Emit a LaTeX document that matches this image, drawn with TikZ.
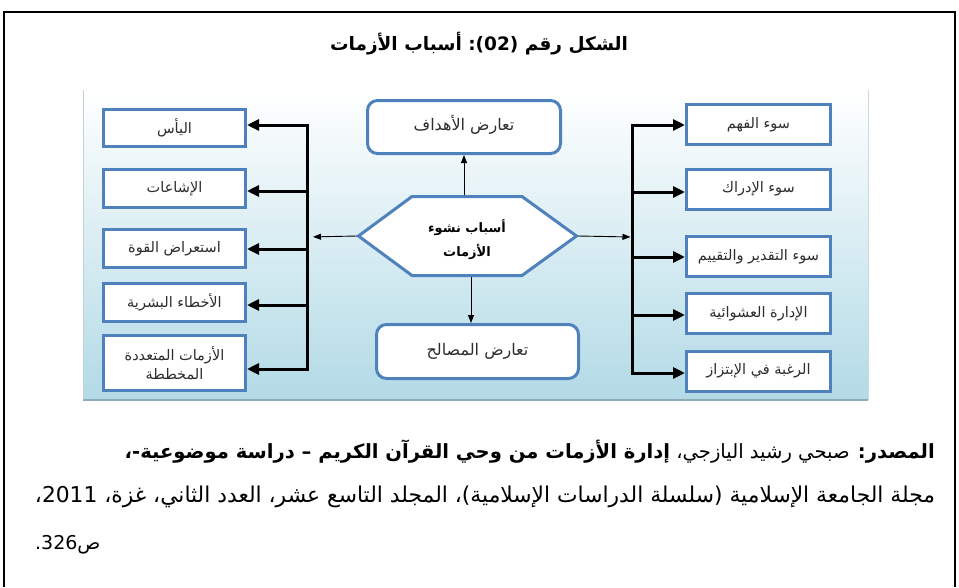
\documentclass[tikz,border=0pt]{standalone}
\usepackage{fontspec}
\usetikzlibrary{arrows.meta}
\TeXXeTstate=1
\newfontfamily\arabicfont[Script=Arabic]{DejaVu Sans}
\definecolor{boxblue}{RGB}{79,129,189}
\definecolor{panelblue}{RGB}{178,218,230}
\definecolor{panelmid}{RGB}{226,241,246}
\definecolor{paneledge}{RGB}{140,172,185}
\definecolor{boxtext}{RGB}{45,45,45}
\tikzset{
  sqbox/.style={draw=boxblue, line width=3pt, fill=white, minimum width=142pt,
    minimum height=38pt, inner sep=2pt, text=boxtext, font=\arabicfont\fontsize{14.5}{19}\selectfont, align=center},
  rbox/.style={draw=boxblue, line width=3pt, fill=white, rounded corners=10pt,
    inner sep=2pt, text=boxtext, font=\arabicfont\fontsize{16}{20}\selectfont},
  bigarrow/.style={line width=3pt, -{Triangle[length=12pt,width=11pt]}},
  bigtwo/.style={line width=3pt, {Triangle[length=12pt,width=11pt]}-{Triangle[length=12pt,width=11pt]}},
  thinarrow/.style={line width=0.9pt, -{Triangle[length=8pt,width=6pt]}},
}
\begin{document}
\begin{tikzpicture}[x=1pt,y=-1pt]
\useasboundingbox (0,0) rectangle (959,587);
% outer frame
\draw[line width=1.5pt] (4,587) -- (4,12) -- (955,12) -- (955,587);
% title
\node (title) at (479,44) {\arabicfont\bfseries\fontsize{18.5}{23}\selectfont\beginR الشكل رقم \beginL(02):\endL\ أسباب الأزمات\endR};
% panel
\shade[top color=white, middle color=panelmid, bottom color=panelblue] (83,90) rectangle (868,400);
\draw[paneledge!55, line width=1pt] (83,90) -- (83,400);
\draw[paneledge!45, line width=1pt] (868,90) -- (868,400);
\draw[paneledge, line width=1.6pt] (83,400) -- (868,400);

% left boxes
\node[sqbox, minimum height=37pt] (l1) at (174.5,128) {\beginR اليأس\endR};
\node[sqbox] (l2) at (174.5,188.5) {\beginR الإشاعات\endR};
\node[sqbox] (l3) at (174.5,248.5) {\beginR استعراض القوة\endR};
\node[sqbox] (l4) at (174.5,302.5) {\beginR الأخطاء البشرية\endR};
\node[sqbox, minimum height=55pt] (l5) at (174.5,363) {\beginR الأزمات المتعددة\endR\\\beginR المخططة\endR};

% right boxes
\node[sqbox, minimum width=144pt, minimum height=40pt] (r1) at (758.5,124.5) {\beginR سوء الفهم\endR};
\node[sqbox, minimum width=144pt, minimum height=40pt] (r2) at (758.5,189) {\beginR سوء الإدراك\endR};
\node[sqbox, minimum width=144pt, minimum height=40pt] (r3) at (758.5,256.5) {\beginR سوء التقدير والتقييم\endR};
\node[sqbox, minimum width=144pt, minimum height=40pt] (r4) at (758.5,313.5) {\beginR الإدارة العشوائية\endR};
\node[sqbox, minimum width=144pt, minimum height=40pt] (r5) at (758.5,371) {\beginR الرغبة في الإبتزاز\endR};

% top and bottom rounded boxes
\node[rbox, minimum width=193pt, minimum height=53pt] (top) at (464,127) {\raisebox{8pt}{\beginR تعارض الأهداف\endR}};
\node[rbox, minimum width=202pt, minimum height=54pt] (bot) at (477.5,351.5) {\raisebox{5pt}{\beginR تعارض المصالح\endR}};

% hexagon
\draw[draw=boxblue, line width=3pt, fill=white]
  (358.5,236) -- (412,196.5) -- (522,196.5) -- (576.5,236) -- (522,275.5) -- (412,275.5) -- cycle;
\coordinate (hexL) at (357,236);
\coordinate (hexR) at (578,236);
\coordinate (hexT) at (464,195);
\coordinate (hexB) at (471,277);
\node[align=center, text=black, font=\arabicfont\bfseries\fontsize{13}{24}\selectfont] (hex) at (467,240)
  {\beginR أسباب نشوء\endR\\\beginR الأزمات\endR};

% trunk coordinates
\coordinate (lt1) at (307,125);
\coordinate (lt2) at (307,191);
\coordinate (lt3) at (307,249);
\coordinate (lt4) at (307,305);
\coordinate (lt5) at (307,369);
\coordinate (lmid) at (307,237);
\coordinate (rt1) at (632,125);
\coordinate (rt2) at (632,192);
\coordinate (rt3) at (632,257);
\coordinate (rt4) at (632,315);
\coordinate (rt5) at (632,373);
\coordinate (rmid) at (632,237);

% left connectors
\draw[bigtwo, line join=miter] (l1.east |- lt1) -- (lt1) -- (lt5) -- (l5.east |- lt5);
\draw[bigarrow] (lt2) -- (l2.east |- lt2);
\draw[bigarrow] (lt3) -- (l3.east |- lt3);
\draw[bigarrow] (lt4) -- (l4.east |- lt4);
% right connectors
\draw[bigtwo, line join=miter] (r1.west |- rt1) -- (rt1) -- (rt5) -- (r5.west |- rt5);
\draw[bigarrow] (rt2) -- (r2.west |- rt2);
\draw[bigarrow] (rt3) -- (r3.west |- rt3);
\draw[bigarrow] (rt4) -- (r4.west |- rt4);
% thin connectors from the hexagon
\draw[thinarrow, shorten >=6pt] (hexL) -- (lmid);
\draw[thinarrow, shorten >=1.5pt] (hexR) -- (rmid);
\draw[thinarrow] (hexT) -- (top.south);
\draw[thinarrow] (hexB) -- (hexB |- bot.north);

% source text
\node[anchor=east, inner sep=0pt] (src1) at (935,452) {\resizebox{810pt}{!}{\arabicfont\beginR{\bfseries المصدر:} صبحي رشيد اليازجي، {\bfseries إدارة الأزمات من وحي القرآن الكريم – دراسة موضوعية-،}\endR}};
\node[anchor=center, inner sep=0pt] (src2) at (485,497) {\resizebox{900pt}{!}{\arabicfont\beginR مجلة الجامعة الإسلامية (سلسلة الدراسات الإسلامية)، المجلد التاسع عشر، العدد الثاني، غزة، \beginL 2011\endL،\endR}};
\node[anchor=west, inner sep=0pt] (src3) at (35,545) {\arabicfont\fontsize{19}{22}\selectfont\beginR ص\beginL 326\endL.\endR};
\end{tikzpicture}
\end{document}
